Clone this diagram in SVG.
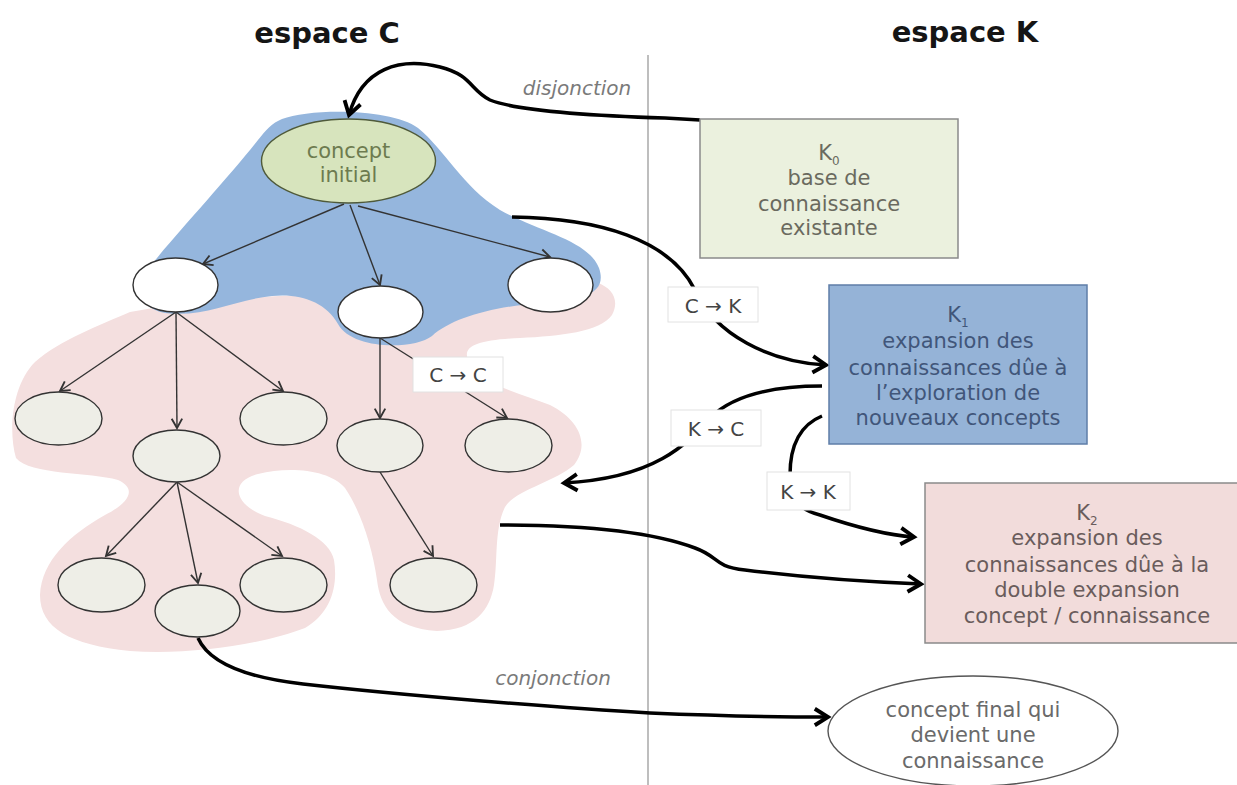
<svg xmlns="http://www.w3.org/2000/svg" width="1237" height="785" viewBox="0 0 1237 785">
<defs>
<style>
text{font-family:"DejaVu Sans","Liberation Sans",sans-serif;text-anchor:middle}
.title{font-size:29px;font-weight:bold;fill:#151515}
.lbl{font-size:20px;fill:#7a7a7a;font-style:italic}
.body{font-size:21px}
.sub{font-size:12px}
.tree{fill:none;stroke:#333;stroke-width:1.4;marker-end:url(#thin)}
.big{fill:none;stroke:#000;stroke-width:3.5}
.bigA{marker-end:url(#thick)}
.tag rect{fill:#fff;stroke:#e2e2e2;stroke-width:1}
.tag text{font-size:20px;fill:#444}
.nw{fill:#fff;stroke:#333;stroke-width:1.4}
.ng{fill:#eeeee7;stroke:#333;stroke-width:1.4}
</style>
<marker id="thin" markerUnits="userSpaceOnUse" markerWidth="14" markerHeight="14" viewBox="-10 -6 12 12" refX="0" refY="0" orient="auto">
<path d="M-8,-4.5 L0,0 L-8,4.5" fill="none" stroke="#333" stroke-width="1.6"/>
</marker>
<marker id="thick" markerUnits="userSpaceOnUse" markerWidth="22" markerHeight="22" viewBox="-16 -10 20 20" refX="0" refY="0" orient="auto">
<path d="M-12,-7.5 L0,0 L-12,7.5" fill="none" stroke="#000" stroke-width="3.5"/>
</marker>
</defs>
<rect width="1237" height="785" fill="#fff"/>

<!-- background regions -->
<path id="pink-region" fill="#f4dfdf" d="M130,312 C100,325 60,340 35,362 C12,385 8,430 16,458 C30,475 90,472 118,480 C140,490 125,505 105,515 C70,535 42,560 40,595 C40,628 70,645 130,651 C190,655 260,645 305,628 C332,612 338,585 334,560 C330,540 300,525 265,516 C235,505 228,482 258,474 C290,466 330,470 345,488 C360,510 372,545 377,580 C380,605 392,628 437,631 C475,630 490,610 494,585 C498,560 494,530 505,507 C515,490 555,482 574,465 C590,445 580,420 550,405 C520,393 480,385 468,360 C462,345 480,340 520,338 C560,336 600,332 612,315 C620,300 612,288 598,283 L400,290 L200,300 Z"/>
<path id="blue-region" fill="#95b6dd" d="M282,119 C310,108 392,108 418,128 C445,150 462,186 500,210 C540,232 588,240 599,268 C608,294 582,300 540,303 C492,307 452,318 432,336 C414,350 352,350 338,324 C326,302 300,293 272,296 C232,300 205,318 165,313 C138,308 136,286 152,264 C178,232 228,178 258,140 C266,130 272,123 282,119 Z"/>

<line x1="648" y1="55" x2="648" y2="785" stroke="#a8a8a8" stroke-width="1.5"/>

<text class="title" x="327" y="43">espace C</text>
<text class="title" x="965" y="42">espace K</text>

<g id="connectors">
<!-- tree edges -->
<path class="tree" d="M344,204 L203,264"/>
<path class="tree" d="M350,205 L380,285"/>
<path class="tree" d="M358,206 L550,257"/>
<path class="tree" d="M176,312 L60,391"/>
<path class="tree" d="M176,312 L177,428"/>
<path class="tree" d="M176,312 L283,391"/>
<path class="tree" d="M380,338 L380,418"/>
<path class="tree" d="M380,338 L507,418"/>
<path class="tree" d="M177,482 L106,556"/>
<path class="tree" d="M177,482 L198,583"/>
<path class="tree" d="M177,482 L282,556"/>
<path class="tree" d="M380,472 L433,556"/>
<!-- main connectors -->
<path id="disjonction" class="big bigA" d="M700,120 L665,118 C600,116 520,112 490,100 C470,90 472,75 440,67 C400,57 362,68 349,115"/>
<path id="c-to-k" class="big bigA" d="M512,217 C600,218 670,240 695,290 C715,335 770,362 826,365"/>
<path id="k-to-c" class="big bigA" d="M822,386 C765,386 730,398 710,418 C690,440 660,478 564,483"/>
<path id="k-to-k" class="big bigA" d="M822,416 C800,425 790,445 790,475 C790,500 800,510 820,515 C855,527 885,535 914,537"/>
<path id="c-to-k2" class="big bigA" d="M500,525 C590,525 655,533 695,548 C720,557 712,566 745,570 C800,577 870,582 921,584"/>
<path id="conjonction" class="big bigA" d="M198,638 C210,665 250,678 303,684 C400,695 560,708 650,713 C720,716 780,717 828,717"/>
<text class="lbl" x="577" y="95">disjonction</text>
<text class="lbl" x="553" y="685">conjonction</text>
<g class="tag" id="tag-cc"><rect x="413" y="357" width="90" height="35"/><text x="458" y="382">C → C</text></g>
<g class="tag" id="tag-ck"><rect x="668" y="287" width="90" height="35"/><text x="713" y="313">C → K</text></g>
<g class="tag" id="tag-kc"><rect x="671" y="410" width="90" height="36"/><text x="716" y="436">K → C</text></g>
<g class="tag" id="tag-kk"><rect x="767" y="472" width="83" height="38"/><text x="808" y="499">K → K</text></g>
</g>

<g id="concept-initial">
<ellipse cx="348.5" cy="161" rx="87" ry="42" fill="#d7e4bd" stroke="#4f5a3a" stroke-width="1.4"/>
<text class="body" x="348.5" y="158" fill="#6d7b4f">concept</text>
<text class="body" x="348.5" y="182" fill="#6d7b4f">initial</text>
</g>
<g id="c1"><ellipse class="nw" cx="175.5" cy="285" rx="42.5" ry="27"/></g>
<g id="c2"><ellipse class="nw" cx="380.5" cy="312" rx="42.5" ry="26"/></g>
<g id="c3"><ellipse class="nw" cx="550.5" cy="285" rx="42.5" ry="27"/></g>
<g id="c11"><ellipse class="ng" cx="58.5" cy="418.5" rx="43.5" ry="26.5"/></g>
<g id="c12"><ellipse class="ng" cx="176.5" cy="456" rx="43.5" ry="26"/></g>
<g id="c13"><ellipse class="ng" cx="283.5" cy="418.5" rx="43.5" ry="26.5"/></g>
<g id="c21"><ellipse class="ng" cx="380" cy="445.5" rx="43" ry="26.5"/></g>
<g id="c22"><ellipse class="ng" cx="508.5" cy="445.5" rx="43.5" ry="26.5"/></g>
<g id="c121"><ellipse class="ng" cx="101.5" cy="585" rx="43.5" ry="27"/></g>
<g id="c122"><ellipse class="ng" cx="197.5" cy="611" rx="42.5" ry="26"/></g>
<g id="c123"><ellipse class="ng" cx="283.5" cy="585" rx="43.5" ry="27"/></g>
<g id="c211"><ellipse class="ng" cx="433.5" cy="585" rx="43.5" ry="27"/></g>

<g id="k0">
<rect x="700" y="119" width="258" height="139" fill="#ebf1de" stroke="#8a8a8a" stroke-width="1.5"/>
<text class="body" x="829" y="160" fill="#6a6a5e">K<tspan class="sub" dy="5">0</tspan></text>
<text class="body" x="829" y="185" fill="#6a6a5e">base de</text>
<text class="body" x="829" y="211" fill="#6a6a5e">connaissance</text>
<text class="body" x="829" y="235" fill="#6a6a5e">existante</text>
</g>
<g id="k1">
<rect x="829" y="285" width="258" height="159" fill="#95b3d7" stroke="#5f7ea8" stroke-width="1.5"/>
<text class="body" x="958" y="322" fill="#41567a">K<tspan class="sub" dy="5">1</tspan></text>
<text class="body" x="958" y="348" fill="#41567a">expansion des</text>
<text class="body" x="958" y="375" fill="#41567a">connaissances dûe à</text>
<text class="body" x="958" y="400" fill="#41567a">l’exploration de</text>
<text class="body" x="958" y="425" fill="#41567a">nouveaux concepts</text>
</g>
<g id="k2">
<rect x="925" y="483" width="330" height="160" fill="#f2dcdb" stroke="#8a8a8a" stroke-width="1.5"/>
<text class="body" x="1087" y="520" fill="#6a5c5c">K<tspan class="sub" dy="5">2</tspan></text>
<text class="body" x="1087" y="545" fill="#6a5c5c">expansion des</text>
<text class="body" x="1087" y="572" fill="#6a5c5c">connaissances dûe à la</text>
<text class="body" x="1087" y="597" fill="#6a5c5c">double expansion</text>
<text class="body" x="1087" y="623" fill="#6a5c5c">concept / connaissance</text>
</g>
<g id="concept-final">
<ellipse cx="973" cy="731" rx="145" ry="55" fill="#fff" stroke="#555" stroke-width="1.4"/>
<text class="body" x="973" y="717" fill="#6a6a6a">concept final qui</text>
<text class="body" x="973" y="742" fill="#6a6a6a">devient une</text>
<text class="body" x="973" y="768" fill="#6a6a6a">connaissance</text>
</g>
</svg>
